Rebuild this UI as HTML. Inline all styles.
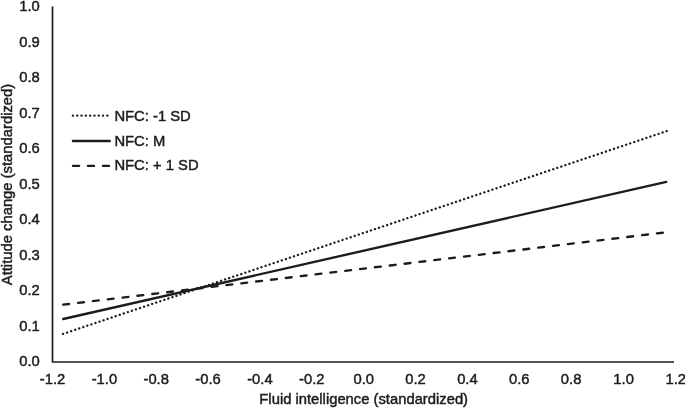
<!DOCTYPE html>
<html><head><meta charset="utf-8"><title>Figure</title>
<style>html,body{margin:0;padding:0;background:#fff}body{width:685px;height:410px;overflow:hidden}</style></head>
<body>
<svg width="685" height="410" viewBox="0 0 685 410" style="display:block">
<rect width="685" height="410" fill="#fff"/>
<g font-family="'Liberation Sans', Arial, sans-serif" font-size="14.8" fill="#1c1c1c" stroke="#1c1c1c" stroke-width="0.45">
<text transform="translate(39.8,366.2) scale(1,1.05)" text-anchor="end">0.0</text>
<text transform="translate(39.8,330.7) scale(1,1.05)" text-anchor="end">0.1</text>
<text transform="translate(39.8,295.2) scale(1,1.05)" text-anchor="end">0.2</text>
<text transform="translate(39.8,259.7) scale(1,1.05)" text-anchor="end">0.3</text>
<text transform="translate(39.8,224.2) scale(1,1.05)" text-anchor="end">0.4</text>
<text transform="translate(39.8,188.7) scale(1,1.05)" text-anchor="end">0.5</text>
<text transform="translate(39.8,153.2) scale(1,1.05)" text-anchor="end">0.6</text>
<text transform="translate(39.8,117.7) scale(1,1.05)" text-anchor="end">0.7</text>
<text transform="translate(39.8,82.2) scale(1,1.05)" text-anchor="end">0.8</text>
<text transform="translate(39.8,46.7) scale(1,1.05)" text-anchor="end">0.9</text>
<text transform="translate(39.8,11.2) scale(1,1.05)" text-anchor="end">1.0</text>
<text transform="translate(52.5,383.5) scale(1,1.05)" text-anchor="middle">-1.2</text>
<text transform="translate(104.4,383.5) scale(1,1.05)" text-anchor="middle">-1.0</text>
<text transform="translate(156.2,383.5) scale(1,1.05)" text-anchor="middle">-0.8</text>
<text transform="translate(208.1,383.5) scale(1,1.05)" text-anchor="middle">-0.6</text>
<text transform="translate(259.9,383.5) scale(1,1.05)" text-anchor="middle">-0.4</text>
<text transform="translate(311.8,383.5) scale(1,1.05)" text-anchor="middle">-0.2</text>
<text transform="translate(363.7,383.5) scale(1,1.05)" text-anchor="middle">0.0</text>
<text transform="translate(415.5,383.5) scale(1,1.05)" text-anchor="middle">0.2</text>
<text transform="translate(467.4,383.5) scale(1,1.05)" text-anchor="middle">0.4</text>
<text transform="translate(519.2,383.5) scale(1,1.05)" text-anchor="middle">0.6</text>
<text transform="translate(571.1,383.5) scale(1,1.05)" text-anchor="middle">0.8</text>
<text transform="translate(623.6,383.5) scale(1,1.05)" text-anchor="middle">1.0</text>
<text transform="translate(675.8,383.5) scale(1,1.05)" text-anchor="middle">1.2</text>
<text transform="translate(363.7,404.3) scale(1,1.05)" text-anchor="middle">Fluid intelligence (standardized)</text>
<text transform="translate(11.8,184.5) rotate(-90) scale(1,1.045)" font-size="14.8" text-anchor="middle">Attitude change (standardized)</text>
<text transform="translate(114.4,120.5) scale(1,1.05)">NFC: -1 SD</text>
<text transform="translate(114.4,145.9) scale(1,1.05)">NFC: M</text>
<text transform="translate(114.4,170.3) scale(1,1.05)">NFC: + 1 SD</text>
</g>
<g stroke="#1c1c1c" fill="none" stroke-linecap="round">
<path d="M52.5 6.4V362H674" stroke-width="1.7" stroke-linecap="butt" stroke-linejoin="miter"/>
<line x1="63.0" y1="333.9" x2="666.9" y2="131.05" stroke-width="2.35" stroke-dasharray="0.1 4.1735"/>
<line x1="63.2" y1="319.0" x2="666.3" y2="181.9" stroke-width="2.35"/>
<line x1="63.2" y1="304.7" x2="666.3" y2="232.3" stroke-width="2.35" stroke-dasharray="5.9 9.05"/>
<line x1="72.9" y1="115.6" x2="107.5" y2="115.6" stroke-width="2.35" stroke-dasharray="0.1 4.2"/>
<line x1="72.95" y1="141" x2="109.75" y2="141" stroke-width="2.35"/>
<line x1="72.95" y1="165.85" x2="109.3" y2="165.85" stroke-width="2.35" stroke-dasharray="6.1 8.9"/>
</g></svg>
</body></html>
